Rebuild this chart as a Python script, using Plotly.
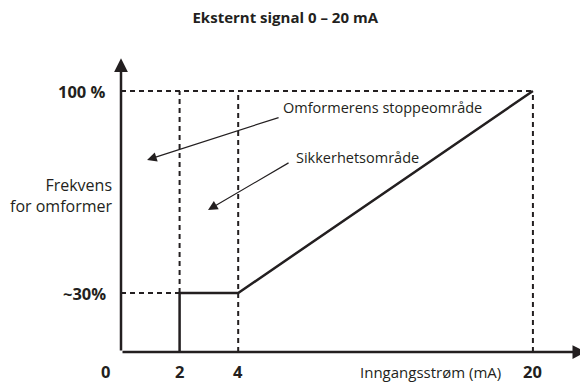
import plotly.graph_objects as go

# schematic values (mA on x, % frequency on y)
current_mA = [0, 2, 4, 20]
x_pos = [0, 2, 4, 14.06]          # where each mA tick sits on the drawn axis
freq_pct = [0, 30, 100]
y_pos = [0, 22.6, 100]            # where each % level sits on the drawn axis
x_ticks = ["0", "2", "4", "20"]
y_ticks = ["", "~30%", "100 %"]

# response curve: 0 below 2 mA, ~30% from 2 to 4 mA, then linear to 100% at 20 mA
curve_mA = [2, 2, 4, 20]
curve_pct = [0, 30, 30, 100]

# callouts: (text, text anchor, arrow tail, arrow head) in axis units
callouts = [
    ("Omformerens stoppeområde", (5.45, 93.5), (5.43, 90.0), (0.89, 73.6)),
    ("Sikkerhetsområde", (5.9, 74.5), (5.77, 72.8), (2.97, 54.4)),
]

def xp(v):
    return x_pos[current_mA.index(v)]

def yp(v):
    return y_pos[freq_pct.index(v)]

ink = "#231f20"
font = "Open Sans"
dash = "5px,4px"

fig = go.Figure()

# dashed guide lines
guides = [
    ([xp(0), xp(20)], [yp(100), yp(100)]),
    ([xp(2), xp(2)], [yp(30), yp(100)]),
    ([xp(4), xp(4)], [yp(0), yp(100)]),
    ([xp(20), xp(20)], [yp(0), yp(100)]),
    ([xp(0), xp(2)], [yp(30), yp(30)]),
]
for gx, gy in guides:
    fig.add_trace(go.Scatter(x=gx, y=gy, mode="lines",
                             line=dict(color=ink, width=2, dash=dash),
                             showlegend=False, hoverinfo="skip"))

fig.add_trace(go.Scatter(x=[xp(v) for v in curve_mA], y=[yp(v) for v in curve_pct],
                         mode="lines", line=dict(color=ink, width=2.5),
                         showlegend=False))

# axes with arrow heads
fig.add_annotation(x=0, y=112.5, ax=0, ay=0, xref="x", yref="y", axref="x", ayref="y",
                   showarrow=True, arrowhead=2, arrowsize=1.1, arrowwidth=2.5,
                   arrowcolor=ink, text="")
fig.add_annotation(x=15.88, y=0, ax=0, ay=0, xref="x", yref="y", axref="x", ayref="y",
                   showarrow=True, arrowhead=2, arrowsize=1.1, arrowwidth=2.5,
                   arrowcolor=ink, text="")

for text, (tx, ty), (ax_, ay_), (hx, hy) in callouts:
    fig.add_annotation(x=hx, y=hy, ax=ax_, ay=ay_, xref="x", yref="y", axref="x", ayref="y",
                       showarrow=True, arrowhead=2, arrowsize=1.6, arrowwidth=1.2,
                       arrowcolor=ink, text="")
    fig.add_annotation(x=tx, y=ty, xref="x", yref="y", text=text, showarrow=False,
                       xanchor="left", yanchor="middle",
                       font=dict(family=font, size=14.5, color=ink))

# tick labels
for v, lab in zip(current_mA, x_ticks):
    fig.add_annotation(x=xp(v), y=0, xref="x", yref="y", text="<b>%s</b>" % lab,
                       showarrow=False, yshift=-19, xshift=-16 if v == 0 else 0,
                       font=dict(family=font, size=16.5, color=ink))
for v, lab in zip(freq_pct, y_ticks):
    if lab:
        fig.add_annotation(x=0, y=yp(v), xref="x", yref="y", text="<b>%s</b>" % lab,
                           showarrow=False, xanchor="right", xshift=-13,
                           font=dict(family=font, size=16.5, color=ink))

fig.add_annotation(x=0, y=60, xref="x", yref="y", text="Frekvens<br>for omformer",
                   showarrow=False, xanchor="right", align="right", xshift=-7,
                   font=dict(family=font, size=16, color=ink))
fig.add_annotation(x=10.55, y=0, xref="x", yref="y", text="Inngangsstrøm (mA)",
                   showarrow=False, yshift=-20,
                   font=dict(family=font, size=15, color=ink))

# the page body adds an 8 px margin, so the figure is 8 px smaller on each side
fig.update_layout(
    title=dict(text="<b>Eksternt signal 0 – 20 mA</b>", x=0.478, xanchor="center",
               y=0.973, yanchor="middle", font=dict(family=font, size=15, color=ink)),
    width=580, height=375, autosize=False,
    margin=dict(l=113, r=0, t=0, b=31, pad=0),
    plot_bgcolor="white", paper_bgcolor="white",
    xaxis=dict(range=[0, 15.94], visible=False, fixedrange=True),
    yaxis=dict(range=[0, 131.8], visible=False, fixedrange=True),
)

fig.write_html("out.html")
